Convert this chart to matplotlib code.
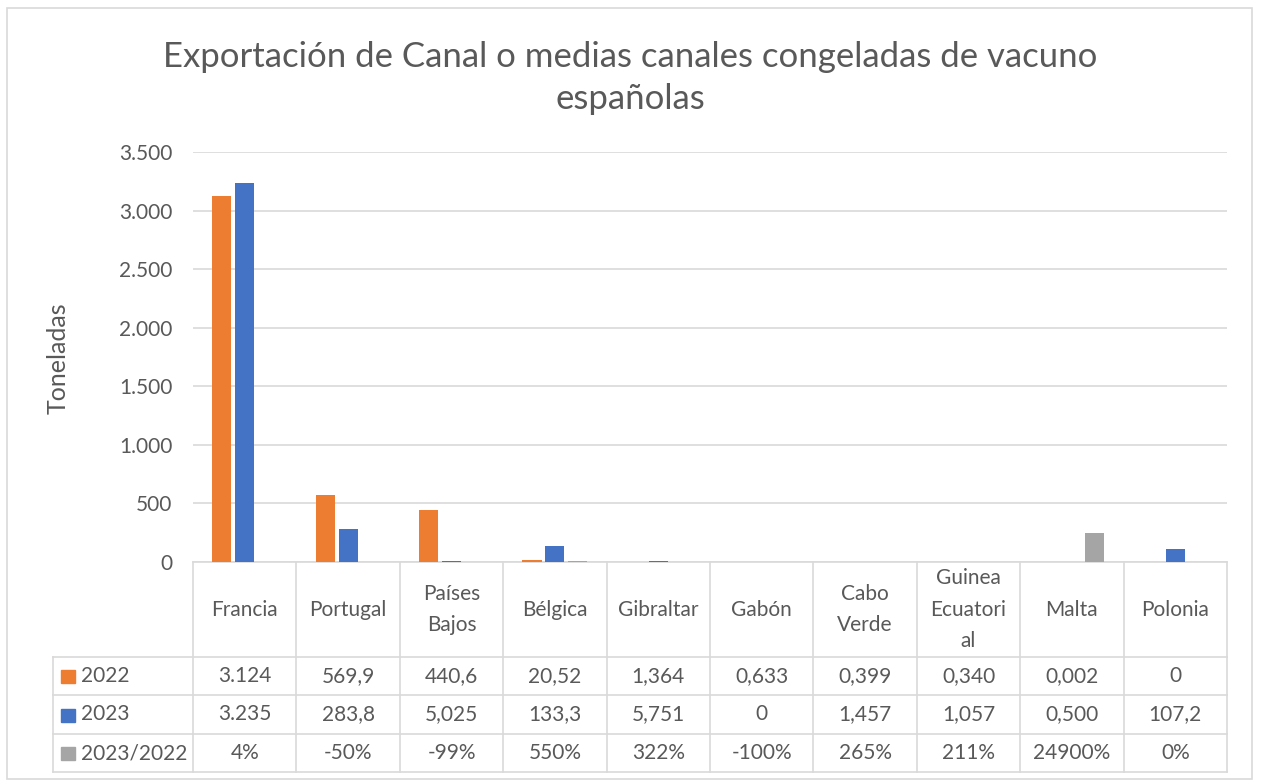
import math
import numpy as np
import matplotlib
matplotlib.use("Agg")
import matplotlib.pyplot as plt
from matplotlib.transforms import blended_transform_factory
from matplotlib.patches import Rectangle
from matplotlib.lines import Line2D

plt.rcParams['font.family'] = ['Lato', 'DejaVu Sans']

# data
paises = ['Francia', 'Portugal', 'Países\nBajos', 'Bélgica', 'Gibraltar', 'Gabón',
          'Cabo\nVerde', 'Guinea\nEcuatori\nal', 'Malta', 'Polonia']
t2022 = [3124, 569.9, 440.6, 20.52, 1.364, 0.633, 0.399, 0.340, 0.002, 0]
t2023 = [3235, 283.8, 5.025, 133.3, 5.751, 0, 1.457, 1.057, 0.500, 107.2]
ratio = [0.04, -0.50, -0.99, 5.50, 3.22, -1.00, 2.65, 2.11, 249.0, 0.0]
series_names = ['2022', '2023', '2023/2022']
colores = ['#ED7D31', '#4472C4', '#A5A5A5']

TEXT = '#595959'
GRID = '#D9D9D9'
FS = 15


def fmt_num(v):
    # excel-like, spanish separators
    if v == 0:
        return '0'
    if v >= 1000:
        return f'{v:,.0f}'.replace(',', '.')
    if v < 1:
        return f'{v:.3f}'.replace('.', ',')
    dec = 3 - int(math.floor(math.log10(v)))
    return f'{v:.{dec}f}'.replace('.', ',')


def fmt_pct(v):
    return f'{round(v * 100)}%'


W, H = 1261, 780
fig = plt.figure(figsize=(W / 100, H / 100), dpi=100)

# plot area in pixels
L, R, T, B = 193, 1227, 152, 562
ax = fig.add_axes([L / W, 1 - B / H, (R - L) / W, (B - T) / H])

x = np.arange(len(paises))
slot = 0.222
bw = 0.185
for k, (vals, c) in enumerate(zip([t2022, t2023, ratio], colores)):
    ax.bar(x + (k - 1) * slot, vals, bw, color=c, zorder=3)

ax.set_xlim(-0.5, len(paises) - 0.5)
ax.set_ylim(0, 3500)
ax.set_yticks(np.arange(0, 3501, 500))
ax.set_yticklabels([f'{int(v):,}'.replace(',', '.') for v in np.arange(0, 3501, 500)])
ax.yaxis.grid(True, color=GRID, linewidth=1.2, zorder=0)
ax.set_xticks([])
for s in ['top', 'right', 'left']:
    ax.spines[s].set_visible(False)
ax.spines['bottom'].set_color(GRID)
ax.spines['bottom'].set_linewidth(1.2)
ax.tick_params(axis='y', length=0, pad=15, labelsize=FS, labelcolor=TEXT)

fig.text(58 / W, 1 - 358 / H, 'Toneladas', rotation=90, ha='center', va='center',
         fontsize=18, color=TEXT)

fig.text(0.5, 1 - 78 / H, 'Exportación de Canal o medias canales congeladas de vacuno\nespañolas',
         ha='center', va='center', fontsize=25, color=TEXT, linespacing=1.42)

# data table below the plot
ph = B - T
ppu = (R - L) / len(paises)
tr = blended_transform_factory(ax.transData, ax.transAxes)
rows = [0, 95, 133, 172, 210]  # pixel offsets below axis
ry = [-r / ph for r in rows]
x_left = -0.5 - (L - 53) / ppu
xr = len(paises) - 0.5

def hline(y, x0, x1):
    ax.add_line(Line2D([x0, x1], [y, y], transform=tr, color=GRID, lw=1.2, clip_on=False))

def vline(xx, y0, y1):
    ax.add_line(Line2D([xx, xx], [y0, y1], transform=tr, color=GRID, lw=1.2, clip_on=False))

for y in ry[1:]:
    hline(y, x_left, xr)
for i in range(len(paises) + 1):
    vline(i - 0.5, ry[0], ry[-1])
vline(x_left, ry[1], ry[-1])

for i, p in enumerate(paises):
    ax.text(i, (ry[0] + ry[1]) / 2, p, transform=tr, ha='center', va='center',
            fontsize=FS, color=TEXT, linespacing=1.72, clip_on=False)

table_rows = [[fmt_num(v) for v in t2022], [fmt_num(v) for v in t2023], [fmt_pct(v) for v in ratio]]
for r, (name, c, vals) in enumerate(zip(series_names, colores, table_rows)):
    yc = (ry[r + 1] + ry[r + 2]) / 2
    ax.add_patch(Rectangle((x_left + 8 / ppu, yc - 7 / ph), 14 / ppu, 13 / ph, transform=tr,
                           color=c, clip_on=False))
    ax.text(x_left + 28 / ppu, yc, name, transform=tr, ha='left', va='center',
            fontsize=FS, color=TEXT, clip_on=False)
    for i, s in enumerate(vals):
        ax.text(i, yc, s, transform=tr, ha='center', va='center',
                fontsize=FS, color=TEXT, clip_on=False)

# chart border
fig.patches.append(Rectangle((7 / W, 1 / H), 1245 / W, 771 / H, transform=fig.transFigure,
                             fill=False, edgecolor=GRID, lw=1.2))

fig.savefig('out.png', dpi=100)
